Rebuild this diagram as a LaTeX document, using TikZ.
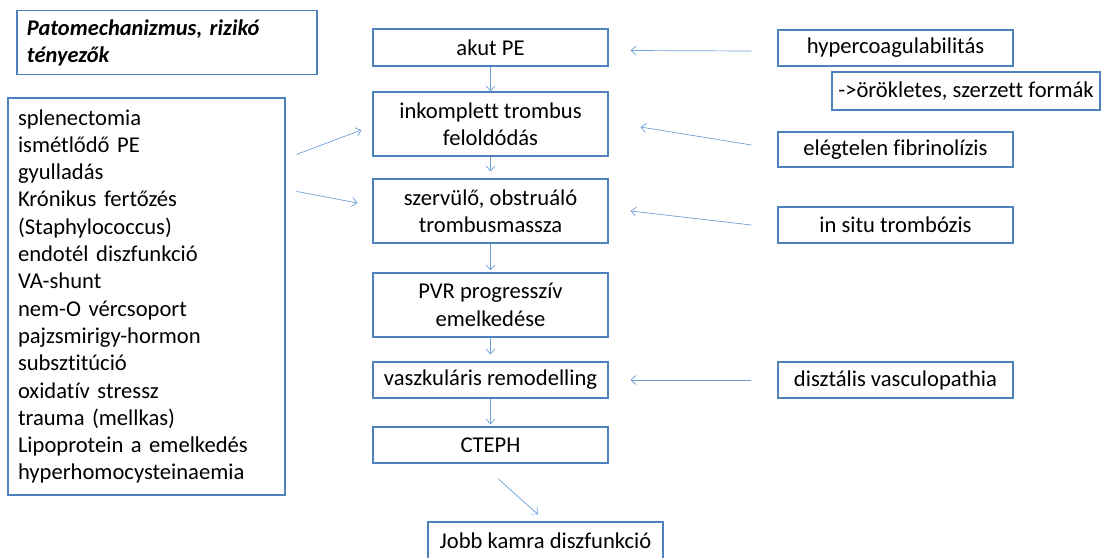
\documentclass[tikz,border=0pt]{standalone}
\usepackage{fontspec}
\setmainfont{Carlito}[Ligatures=NoCommon]
\usetikzlibrary{arrows.meta}
\definecolor{boxblue}{RGB}{79,129,189}
\definecolor{arrblue}{RGB}{110,160,215}
\tikzset{
    box/.style={draw=boxblue, line width=1.1pt, fill=white, inner sep=0pt, align=center,
        font=\fontsize{22.6}{27.3}\selectfont},
    arr/.style={draw=arrblue, line width=0.7pt, -{Straight Barb[length=5pt, width=9pt]}}
}
\begin{document}
\begin{tikzpicture}[x=1pt, y=-1pt]
        \useasboundingbox (0,0) rectangle (1105,557);

        % Left column
        \node[box, minimum width=300pt, minimum height=64pt, text width=280pt, align=left,
            font=\fontsize{22.4}{27}\selectfont\bfseries\itshape] (title) at (167, 42.5)
            {Patomechanizmus, rizikó\\ tényezők};
        \node[box, minimum width=277pt, minimum height=397pt, text width=257pt, align=left] (list) at (146.5, 296.5)
            {splenectomia\\ ismétlődő PE\\ gyulladás\\ Krónikus fertőzés\\ (Staphylococcus)\\
             endotél diszfunkció\\ VA-shunt\\ nem-O vércsoport\\ pajzsmirigy-hormon\\ subsztitúció\\
             oxidatív stressz\\ trauma (mellkas)\\ Lipoprotein a emelkedés\\ hyperhomocysteinaemia};

        % Main chain
        \node[box, minimum width=235pt, minimum height=37pt] (akut) at (490.5, 47.5) {akut PE};
        \node[box, minimum width=235pt, minimum height=64pt] (inkomp) at (490.5, 124) {inkomplett trombus\\ feloldódás};
        \node[box, minimum width=235pt, minimum height=64pt] (szerv) at (490.5, 211) {szervülő, obstruáló\\ trombusmassza};
        \node[box, minimum width=235pt, minimum height=64pt] (pvr) at (490.5, 305) {PVR progresszív\\ emelkedése};
        \node[box, minimum width=235pt, minimum height=36pt] (vaszk) at (490.5, 380) {vaszkuláris remodelling};
        \node[box, minimum width=235pt, minimum height=36pt] (cteph) at (490.5, 445) {CTEPH};
        \node[box, minimum width=235pt, minimum height=37pt] (jobb) at (545.5, 540.5) {Jobb kamra diszfunkció};

        % Right column
        \node[box, minimum width=235pt, minimum height=36pt] (hyper) at (895.5, 48) {hypercoagulabilitás};
        \node[box, minimum width=268pt, minimum height=38pt] (orokl) at (966, 91) {->örökletes, szerzett formák};
        \node[box, minimum width=235pt, minimum height=35pt] (eleg) at (895.5, 149.5) {elégtelen fibrinolízis};
        \node[box, minimum width=235pt, minimum height=36pt] (insitu) at (895.5, 225) {in situ trombózis};
        \node[box, minimum width=235pt, minimum height=36pt] (diszt) at (895.5, 380) {disztális vasculopathia};

        % Arrows
        \draw[arr] (akut) -- (inkomp);
        \draw[arr] (inkomp) -- ([yshift=7pt]szerv.north);
        \draw[arr] (szerv) -- ([yshift=2pt]pvr.north);
        \draw[arr] (pvr) -- ([yshift=7pt]vaszk.north);
        \draw[arr] (vaszk) -- ([yshift=2pt]cteph.north);
        \draw[arr] ([shift={(7.5,15)}]cteph.south) -- ([shift={(-7.5,-7)}]jobb.north);

        \draw[arr] ([shift={(11,57)}]list.north east) -- ([shift={(-11,6)}]inkomp.west);
        \draw[arr] ([shift={(11,94)}]list.north east) -- ([shift={(-15,-8)}]szerv.west);

        \draw[arr] ([shift={(-26,3)}]hyper.west) -- ([shift={(22,3)}]akut.east);
        \draw[arr] ([shift={(-26,-4.5)}]eleg.west) -- ([shift={(32,3)}]inkomp.east);
        \draw[arr] ([xshift=-26pt]insitu.west) -- ([xshift=22pt]szerv.east);
        \draw[arr] ([xshift=-26pt]diszt.west) -- ([xshift=22pt]vaszk.east);
\end{tikzpicture}
\end{document}
